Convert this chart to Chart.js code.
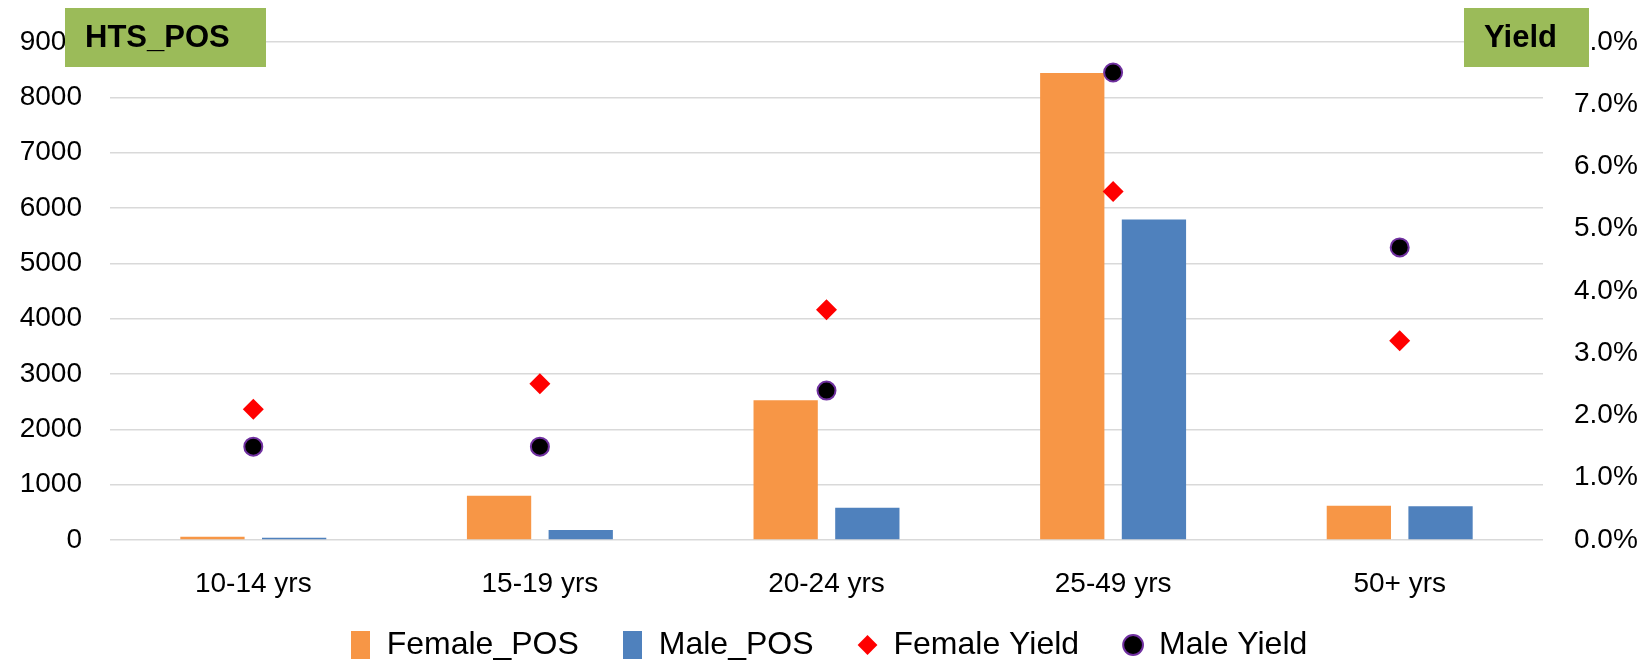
<!DOCTYPE html>
<html>
<head>
<meta charset="utf-8">
<script src="https://cdn.jsdelivr.net/npm/chart.js@4/dist/chart.umd.min.js"></script>
<style>
  body { margin: 0; background: #fff; }
  canvas { display: block; }
</style>
</head>
<body>
<canvas id="chart" width="1651" height="671"></canvas>
<script>
const categories = ['10-14 yrs', '15-19 yrs', '20-24 yrs', '25-49 yrs', '50+ yrs'];
const femalePos = [60, 800, 2525, 8440, 620];
const malePos = [40, 180, 585, 5790, 610];
const femaleYield = [2.10, 2.51, 3.70, 5.60, 3.20];   // percent
const maleYield = [1.50, 1.50, 2.40, 7.51, 4.70];     // percent

const orange = '#F79646';
const blue = '#4F81BD';
const FONT = "'Liberation Sans', Arial, sans-serif";

// tall legend key for the bar series
function keyBox(color) {
    const c = document.createElement('canvas');
    c.width = 19;
    c.height = 28;
    const g = c.getContext('2d');
    g.fillStyle = color;
    g.fillRect(0, 0, 19, 28);
    return c;
}

// green corner labels that sit over the top ticks
const cornerLabels = [
    { text: 'HTS_POS', x: 65, y: 8, w: 201, h: 59 },
    { text: 'Yield', x: 1464, y: 8, w: 125, h: 59 }
];

const cornerPlugin = {
    id: 'cornerLabels',
    afterDraw(chart) {
        const ctx = chart.ctx;
        ctx.save();
        cornerLabels.forEach(l => {
            ctx.fillStyle = '#9BBB59';
            ctx.fillRect(l.x, l.y, l.w, l.h);
            ctx.fillStyle = '#000';
            ctx.font = "bold 31px " + FONT;
            ctx.textBaseline = 'middle';
            ctx.textAlign = 'left';
            ctx.fillText(l.text, l.x + 20, l.y + l.h / 2 + 1);
        });
        ctx.restore();
    }
};

// pin an axis box to a fixed size
function fixWidth(w) {
    return axis => {
        axis.width = w;
        axis.paddingTop = 0;
        axis.paddingBottom = 0;
    };
}

new Chart(document.getElementById('chart'), {
    type: 'bar',
    data: {
        labels: categories,
        datasets: [
            {
                label: 'Female_POS',
                data: femalePos,
                backgroundColor: orange,
                pointStyle: keyBox(orange),
                yAxisID: 'y',
                order: 2
            },
            {
                label: 'Male_POS',
                data: malePos,
                backgroundColor: blue,
                pointStyle: keyBox(blue),
                yAxisID: 'y',
                order: 2
            },
            {
                type: 'line',
                label: 'Female Yield',
                data: femaleYield,
                showLine: false,
                pointStyle: 'rectRot',
                pointRadius: 10.5,
                borderWidth: 0,
                backgroundColor: '#FF0000',
                borderColor: '#FF0000',
                yAxisID: 'y2',
                order: 1
            },
            {
                type: 'line',
                label: 'Male Yield',
                data: maleYield,
                showLine: false,
                pointStyle: 'circle',
                pointRadius: 9,
                borderWidth: 2,
                backgroundColor: '#000000',
                borderColor: '#7030A0',
                yAxisID: 'y2',
                order: 1
            }
        ]
    },
    options: {
        responsive: false,
        animation: false,
        categoryPercentage: 0.57,
        barPercentage: 0.787,
        layout: { padding: { left: 20, right: 13, top: 42, bottom: 0 } },
        plugins: {
            tooltip: { enabled: false },
            legend: {
                position: 'bottom',
                labels: {
                    usePointStyle: true,
                    boxWidth: 20,
                    boxHeight: 14,
                    padding: 44,
                    color: '#000',
                    font: { family: FONT, size: 32 },
                    sort: (a, b) => a.datasetIndex - b.datasetIndex
                }
            }
        },
        scales: {
            x: {
                grid: { display: false },
                border: { display: false },
                ticks: { color: '#000', padding: 19, font: { family: FONT, size: 28 } },
                afterFit: (axis) => {
                    axis.height = 45;
                    axis.paddingLeft = 0;
                    axis.paddingRight = 0;
                    axis._computeLabelArea = () => null;   // let labels spill below the box
                }
            },
            y: {
                position: 'left',
                min: 0,
                max: 9000,
                ticks: {
                    stepSize: 1000,
                    color: '#000',
                    padding: 28,
                    font: { family: FONT, size: 28 },
                    callback: v => String(v)
                },
                grid: { color: '#d9d9d9', lineWidth: 1.5, drawTicks: false },
                border: { display: false },
                afterFit: fixWidth(90)
            },
            y2: {
                position: 'right',
                min: 0,
                max: 8,
                ticks: {
                    stepSize: 1,
                    color: '#000',
                    padding: 31,
                    font: { family: FONT, size: 28 },
                    callback: v => v.toFixed(1) + '%'
                },
                grid: { display: false, drawTicks: false },
                border: { display: false },
                afterFit: fixWidth(95)
            }
        }
    },
    plugins: [cornerPlugin]
});
</script>
</body>
</html>
